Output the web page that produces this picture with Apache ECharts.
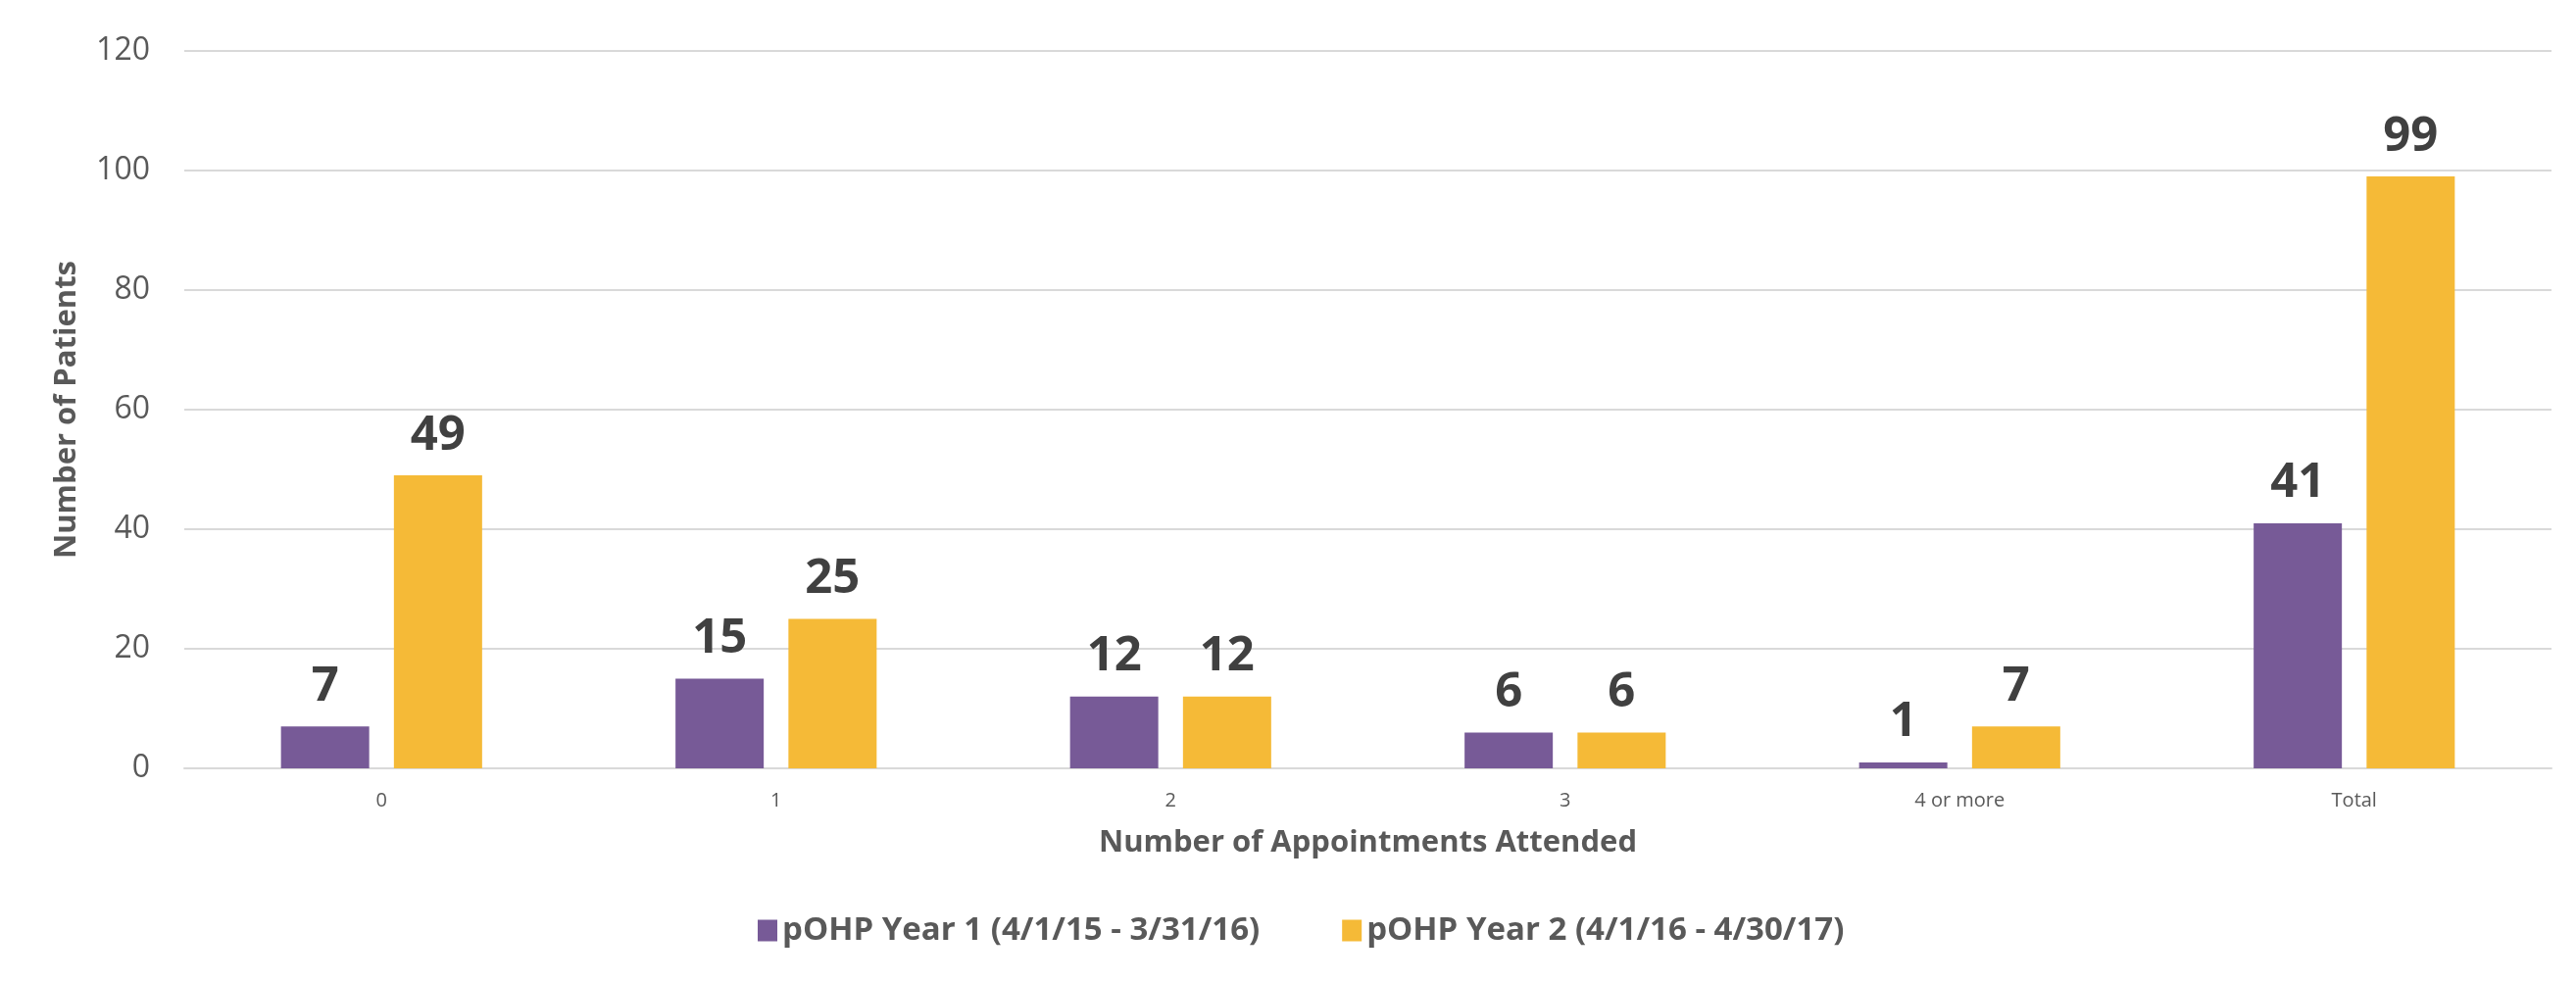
<!DOCTYPE html>
<html>
<head>
<meta charset="utf-8">
<script src="https://cdn.jsdelivr.net/npm/echarts@6/dist/echarts.min.js"></script>
<style>
  html, body { margin: 0; padding: 0; background: #fff; }
  #chart { width: 2628px; height: 1001px; }
</style>
</head>
<body>
<div id="chart"></div>
<script>
const categories = ["0", "1", "2", "3", "4 or more", "Total"];
const year1Name = "pOHP Year 1 (4/1/15 - 3/31/16)";
const year2Name = "pOHP Year 2 (4/1/16 - 4/30/17)";
const year1 = [7, 15, 12, 6, 1, 41];
const year2 = [49, 25, 12, 6, 7, 99];
const yTicks = [0, 20, 40, 60, 80, 100, 120];

const font = "Open Sans";
const labelStyle = {
  show: true,
  position: "top",
  distance: 16,
  fontFamily: font,
  fontWeight: "bold",
  fontSize: 49,
  color: "#404040",
};

const chart = echarts.init(document.getElementById("chart"));
chart.setOption({
  animation: false,
  color: ["#775A97", "#F5BA37"],
  grid: { left: 188, right: 25, top: 52, bottom: 217 },
  legend: {
    data: [year1Name, year2Name],
    left: 768,
    top: 928,
    icon: "rect",
    itemWidth: 20,
    itemHeight: 22,
    itemGap: 84,
    textStyle: { fontFamily: font, fontWeight: "bold", fontSize: 33, color: "#595959" },
  },
  xAxis: {
    type: "category",
    data: categories,
    name: "Number of Appointments Attended",
    nameLocation: "middle",
    nameGap: 61,
    nameTextStyle: { fontFamily: font, fontWeight: "bold", fontSize: 31, color: "#595959" },
    axisLine: { lineStyle: { color: "#D9D9D9", width: 2 } },
    axisTick: { show: false },
    axisLabel: { fontFamily: font, fontSize: 20, color: "#595959", margin: 23 },
  },
  yAxis: {
    type: "value",
    min: yTicks[0],
    max: yTicks[yTicks.length - 1],
    interval: 20,
    name: "Number of Patients",
    nameLocation: "middle",
    nameGap: 104,
    nameTextStyle: { fontFamily: font, fontWeight: "bold", fontSize: 31, color: "#595959" },
    axisLine: { show: false },
    axisTick: { show: false },
    axisLabel: { fontFamily: font, fontSize: 32, color: "#595959", margin: 35 },
    splitLine: { lineStyle: { color: "#D9D9D9", width: 2 } },
  },
  series: [
    {
      name: year1Name,
      type: "bar",
      data: year1,
      barWidth: 90,
      barGap: "28%",
      label: labelStyle,
    },
    {
      name: year2Name,
      type: "bar",
      data: year2,
      barWidth: 90,
      label: labelStyle,
    },
  ],
});
</script>
</body>
</html>
